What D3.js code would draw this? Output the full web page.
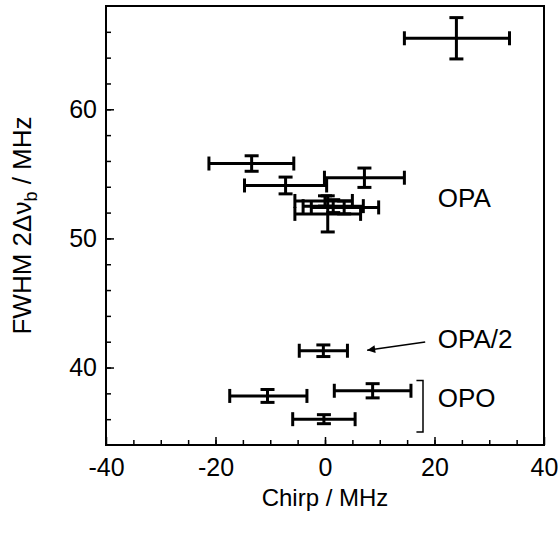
<!DOCTYPE html>
<html>
<head>
<meta charset="utf-8">
<script src="https://cdn.jsdelivr.net/npm/d3@7"></script>
<style>
  body { margin: 0; background: #fff; }
  svg { font-family: "Liberation Sans", Arial, Helvetica, sans-serif; }
</style>
</head>
<body>
<div class="chart"></div>
<script>
// chirp (MHz) and FWHM (MHz) with error ranges
const chirp    = [24.0, -13.4, -7.2, 7.2, 0.0, 1.5, 3.5, 0.5, -0.3, -10.5, 8.7, -0.2];
const chirpLo  = [14.5, -21.2, -14.7, -0.1, -5.5, -4.0, -2.5, -5.5, -4.7, -17.4, 1.7, -5.9];
const chirpHi  = [33.7, -5.7, 0.3, 14.5, 5.0, 7.0, 9.8, 6.5, 4.1, -3.3, 15.7, 5.5];
const fwhm     = [65.5, 55.8, 54.1, 54.7, 52.9, 52.5, 52.4, 51.9, 41.3, 37.8, 38.2, 36.0];
const fwhmErr  = [1.6, 0.6, 0.65, 0.75, 0.4, 0.5, 0.5, 1.4, 0.45, 0.5, 0.55, 0.35];

const xTicks = [-40, -20, 0, 20, 40];
const yTicks = [40, 50, 60];

const labels = [
  { text: "OPA", x: 20.6, y: 52.4 },
  { text: "OPA/2", x: 20.6, y: 41.5 },
  { text: "OPO", x: 20.6, y: 36.95 }
];

let margin = { top: 6, right: 14, bottom: 92, left: 106 };
let width = 558 - margin.left - margin.right;
let height = 537 - margin.top - margin.bottom;

let svg = d3
  .select(".chart")
  .append("svg")
  .attr("width", 558)
  .attr("height", 537)
  .append("g")
  .attr("transform", `translate(${margin.left}, ${margin.top})`);

const xScale = d3.scaleLinear().domain([-40, 40]).range([0, width]);
const yScale = d3.scaleLinear().domain([34, 68]).range([height, 0]);
const fmt = d => String(d);

// bottom axis, ticks inward, minor every 5
svg
  .append("g")
  .attr("transform", `translate(0, ${height})`)
  .call(d3.axisBottom(xScale).tickValues(d3.range(-35, 40, 5)).tickSize(-5).tickFormat(""))
  .call(g => g.select(".domain").remove())
  .call(g => g.selectAll("line").attr("stroke-width", 1.5));

svg
  .append("g")
  .attr("transform", `translate(0, ${height})`)
  .call(d3.axisBottom(xScale).tickValues(xTicks).tickSize(-8).tickPadding(13).tickFormat(fmt))
  .call(g => g.select(".domain").remove())
  .call(g => g.selectAll("line").attr("stroke-width", 1.5))
  .call(g => g.selectAll("text").attr("font-size", 25).attr("font-family", null).attr("fill", "#000"));

// left axis, minor every 2
svg
  .append("g")
  .call(d3.axisLeft(yScale).tickValues(d3.range(36, 68, 2)).tickSize(-5).tickFormat(""))
  .call(g => g.select(".domain").remove())
  .call(g => g.selectAll("line").attr("stroke-width", 1.5));

svg
  .append("g")
  .call(d3.axisLeft(yScale).tickValues(yTicks).tickSize(-8).tickPadding(9).tickFormat(fmt))
  .call(g => g.select(".domain").remove())
  .call(g => g.selectAll("line").attr("stroke-width", 1.5))
  .call(g => g.selectAll("text").attr("font-size", 25).attr("font-family", null).attr("fill", "#000"));

// frame
svg
  .append("rect")
  .attr("width", width)
  .attr("height", height)
  .attr("fill", "none")
  .attr("stroke", "#000")
  .attr("stroke-width", 2);

// error bars
const data = chirp.map((c, i) => ({
  x: c, lo: chirpLo[i], hi: chirpHi[i], y: fwhm[i], e: fwhmErr[i]
}));
const cap = 7;

const bars = svg
  .selectAll(".pt")
  .data(data)
  .enter()
  .append("g")
  .attr("class", "pt")
  .attr("stroke", "#000")
  .attr("stroke-width", 3);

bars.append("line")
  .attr("x1", d => xScale(d.lo)).attr("x2", d => xScale(d.hi))
  .attr("y1", d => yScale(d.y)).attr("y2", d => yScale(d.y));
bars.append("line")
  .attr("x1", d => xScale(d.lo)).attr("x2", d => xScale(d.lo))
  .attr("y1", d => yScale(d.y) - cap).attr("y2", d => yScale(d.y) + cap);
bars.append("line")
  .attr("x1", d => xScale(d.hi)).attr("x2", d => xScale(d.hi))
  .attr("y1", d => yScale(d.y) - cap).attr("y2", d => yScale(d.y) + cap);
bars.append("line")
  .attr("x1", d => xScale(d.x)).attr("x2", d => xScale(d.x))
  .attr("y1", d => yScale(d.y - d.e)).attr("y2", d => yScale(d.y + d.e));
bars.append("line")
  .attr("x1", d => xScale(d.x) - cap).attr("x2", d => xScale(d.x) + cap)
  .attr("y1", d => yScale(d.y - d.e)).attr("y2", d => yScale(d.y - d.e));
bars.append("line")
  .attr("x1", d => xScale(d.x) - cap).attr("x2", d => xScale(d.x) + cap)
  .attr("y1", d => yScale(d.y + d.e)).attr("y2", d => yScale(d.y + d.e));

// group labels
svg
  .selectAll(".lbl")
  .data(labels)
  .enter()
  .append("text")
  .attr("class", "lbl")
  .attr("x", d => xScale(d.x))
  .attr("y", d => yScale(d.y))
  .attr("font-size", 26)
  .text(d => d.text);

// arrow to OPA/2
svg.append("defs")
  .append("marker")
  .attr("id", "head")
  .attr("viewBox", "0 0 10 10")
  .attr("refX", 10).attr("refY", 5)
  .attr("markerWidth", 13).attr("markerHeight", 8)
  .attr("markerUnits", "userSpaceOnUse")
  .attr("orient", "auto")
  .append("path")
  .attr("d", "M0,0 L10,5 L0,10 z")
  .attr("fill", "#000");

svg.append("line")
  .attr("x1", xScale(18.3)).attr("y1", yScale(41.98))
  .attr("x2", xScale(7.7)).attr("y2", yScale(41.34))
  .attr("stroke", "#000")
  .attr("stroke-width", 1.5)
  .attr("marker-end", "url(#head)");

// bracket for OPO
svg.append("path")
  .attr("d", `M${xScale(16.7)},${yScale(39)} H${xScale(17.9)} V${yScale(35)} H${xScale(16.7)}`)
  .attr("fill", "none")
  .attr("stroke", "#000")
  .attr("stroke-width", 1.5);

// axis titles
svg.append("text")
  .attr("x", width / 2)
  .attr("y", height + 61)
  .attr("text-anchor", "middle")
  .attr("font-size", 24)
  .text("Chirp / MHz");

const yt = svg.append("text")
  .attr("transform", `translate(-75, ${height / 2}) rotate(-90)`)
  .attr("text-anchor", "middle")
  .attr("font-size", 26);
yt.append("tspan").text("FWHM 2Δν");
yt.append("tspan").attr("font-size", 18).attr("dy", 6).text("b");
yt.append("tspan").attr("dy", -6).text(" / MHz");
</script>
</body>
</html>
